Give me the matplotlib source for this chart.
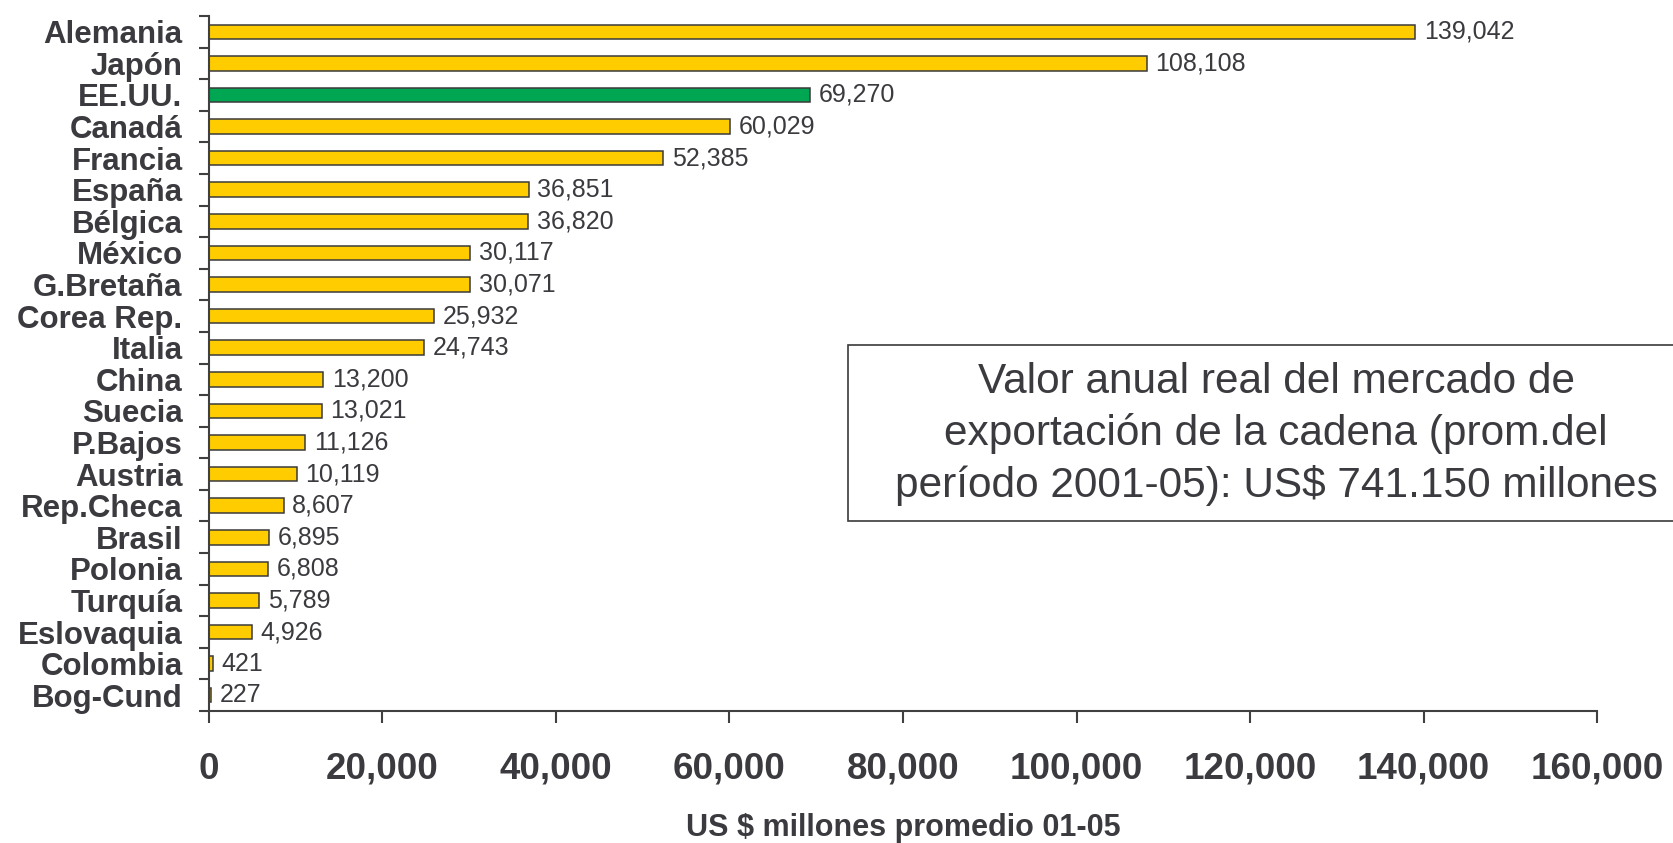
import matplotlib
matplotlib.use('Agg')
import matplotlib.pyplot as plt
from matplotlib.patches import Rectangle

paises = ['Alemania', 'Japón', 'EE.UU.', 'Canadá', 'Francia', 'España', 'Bélgica',
          'México', 'G.Bretaña', 'Corea Rep.', 'Italia', 'China', 'Suecia', 'P.Bajos',
          'Austria', 'Rep.Checa', 'Brasil', 'Polonia', 'Turquía', 'Eslovaquia',
          'Colombia', 'Bog-Cund']
valores = [139042, 108108, 69270, 60029, 52385, 36851, 36820, 30117, 30071, 25932,
           24743, 13200, 13021, 11126, 10119, 8607, 6895, 6808, 5789, 4926, 421, 227]
destacado = 'EE.UU.'
x_ticks = [0, 20000, 40000, 60000, 80000, 100000, 120000, 140000, 160000]

txt = '#3a3a3f'
plt.rcParams['font.family'] = ['Liberation Sans', 'DejaVu Sans']

fig = plt.figure(figsize=(16.73, 8.43), dpi=100)
ax = fig.add_axes([0.1249, 0.1566, 0.8297, 0.8244])

pos = list(range(len(paises)))
colores = ['#00a651' if p == destacado else '#ffcc00' for p in paises]
ax.barh(pos, valores, height=0.46, color=colores, edgecolor='#3a3a3a', linewidth=1.1)

for i, v in enumerate(valores):
    ax.text(v + 1000, i, '{:,}'.format(v), va='center', ha='left',
            fontsize=18, color=txt)

ax.set_ylim(len(paises) - 0.5, -0.5)
ax.set_xlim(0, 160000)

ax.set_yticks(pos)
ax.set_yticklabels(paises, fontsize=22.5, fontweight='bold', color=txt)
ax.set_yticks([k - 0.5 for k in range(len(paises) + 1)], minor=True)
ax.tick_params(axis='y', which='major', length=0, pad=19)
ax.tick_params(axis='y', which='minor', length=7, width=1.5, color='#404040')

ax.set_xticks(x_ticks)
ax.set_xticklabels(['{:,}'.format(t) for t in x_ticks], fontsize=26.5,
                   fontweight='bold', color=txt)
ax.tick_params(axis='x', length=8.5, width=1.5, color='#404040', pad=21)

ax.set_xlabel('US $ millones promedio 01-05', fontsize=22, fontweight='bold',
              color=txt, labelpad=19)

for s in ['top', 'right']:
    ax.spines[s].set_visible(False)
for s in ['left', 'bottom']:
    ax.spines[s].set_color('#404040')
    ax.spines[s].set_linewidth(1.5)

# recuadro con el total
box = Rectangle((848 / 1673, 1 - 521 / 843), 900 / 1673, 176 / 843,
                transform=fig.transFigure, facecolor='white', edgecolor='#3a3a3a',
                linewidth=1.2, clip_on=False)
fig.add_artist(box)
fig.text(1276 / 1673, 1 - 434 / 843,
         'Valor anual real del mercado de\nexportación de la cadena (prom.del\n'
         'período 2001-05): US$ 741.150 millones',
         ha='center', va='center', fontsize=30.5, color=txt, linespacing=1.33)

fig.savefig('out.png', dpi=100)
